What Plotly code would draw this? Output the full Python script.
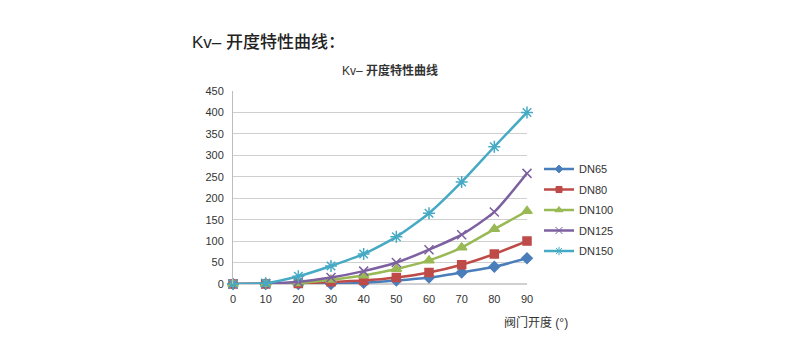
import plotly.graph_objects as go

# Valve opening angle (degrees)
opening = [0, 10, 20, 30, 40, 50, 60, 70, 80, 90]

# Kv values per nominal diameter
kv_dn65 = [0, 0, 0, 0, 3, 8, 15, 27, 40, 60]
kv_dn80 = [0, 0, 1, 5, 8, 15, 27, 45, 70, 100]
kv_dn100 = [0, 0, 2, 10, 20, 35, 55, 85, 128, 170]
kv_dn125 = [0, 1, 5, 15, 30, 50, 80, 115, 168, 258]
kv_dn150 = [0, 2, 18, 42, 70, 110, 165, 238, 320, 400]

series_names = ["DN65", "DN80", "DN100", "DN125", "DN150"]
y_ticks = [0, 50, 100, 150, 200, 250, 300, 350, 400, 450]

colors = ["#4a7ebb", "#be4b48", "#98b954", "#7d60a0", "#46aac5"]
symbols = ["diamond", "square", "triangle-up", "x-thin-open", "asterisk-open"]
sizes = [8, 8, 9, 9, 10]
legend_sizes = [6, 6, 7, 7, 7]

FONT = "Liberation Sans, Noto Sans CJK SC, sans-serif"

fig = go.Figure()
for i, (name, vals) in enumerate(zip(series_names,
                                     [kv_dn65, kv_dn80, kv_dn100, kv_dn125, kv_dn150])):
    fig.add_trace(go.Scatter(
        x=opening, y=vals, name=name, mode="lines+markers",
        legendgroup=name, showlegend=False, cliponaxis=False,
        line=dict(color=colors[i], width=2.5, shape="spline", smoothing=0.6),
        marker=dict(symbol=symbols[i], size=sizes[i], color=colors[i],
                    line=dict(color=colors[i], width=1.5)),
    ))
    # legend key with a smaller symbol
    fig.add_trace(go.Scatter(
        x=[None], y=[None], name=name, mode="lines+markers",
        legendgroup=name, showlegend=True,
        line=dict(color=colors[i], width=2.5),
        marker=dict(symbol=symbols[i], size=legend_sizes[i], color=colors[i],
                    line=dict(color=colors[i], width=1)),
    ))

fig.update_layout(
    width=800, height=345,
    margin=dict(l=233, r=273, t=91, b=61),
    paper_bgcolor="white", plot_bgcolor="white",
    font=dict(family=FONT, size=11, color="#333333"),
    showlegend=True,
    legend=dict(x=(539 - 233) / 294, xanchor="left", y=(284 - 210) / 193,
                yanchor="middle",
                font=dict(size=11, color="#333333"), tracegroupgap=1.5,
                traceorder="grouped", itemwidth=30),
    xaxis=dict(range=[0, 90], tickvals=opening, showgrid=False,
               zeroline=False, showline=False, ticks="",
               ticklabelstandoff=7,
               tickfont=dict(size=11, color="#333333")),
    yaxis=dict(range=[0, 450], tickvals=y_ticks, showgrid=True,
               gridcolor="#cfcfcf", gridwidth=1, zeroline=True,
               zerolinecolor="#d0d0d0", zerolinewidth=2,
               showline=True, linecolor="#bdbdbd", linewidth=1, ticks="",
               ticklabelstandoff=6,
               tickfont=dict(size=11, color="#333333")),
)

fig.add_annotation(text="Kv– 开度特性曲线：", xref="paper", yref="paper",
                   x=(190 - 233) / 294, y=(345 - 61 - 42) / 193,
                   xanchor="left", yanchor="middle", showarrow=False,
                   font=dict(family=FONT, size=17, color="#222222", weight=500))
fig.add_annotation(text="Kv– <b>开度特性曲线</b>", xref="paper", yref="paper",
                   x=(390 - 233) / 294, y=(345 - 61 - 70) / 193,
                   xanchor="center", yanchor="middle", showarrow=False,
                   font=dict(family=FONT, size=12, color="#333333"))
fig.add_annotation(text="阀门开度 (°)", xref="paper", yref="paper",
                   x=(570 - 233) / 294, y=(345 - 61 - 322) / 193,
                   xanchor="right", yanchor="middle", showarrow=False,
                   font=dict(family=FONT, size=12, color="#333333"))

fig.write_html("out.html")
